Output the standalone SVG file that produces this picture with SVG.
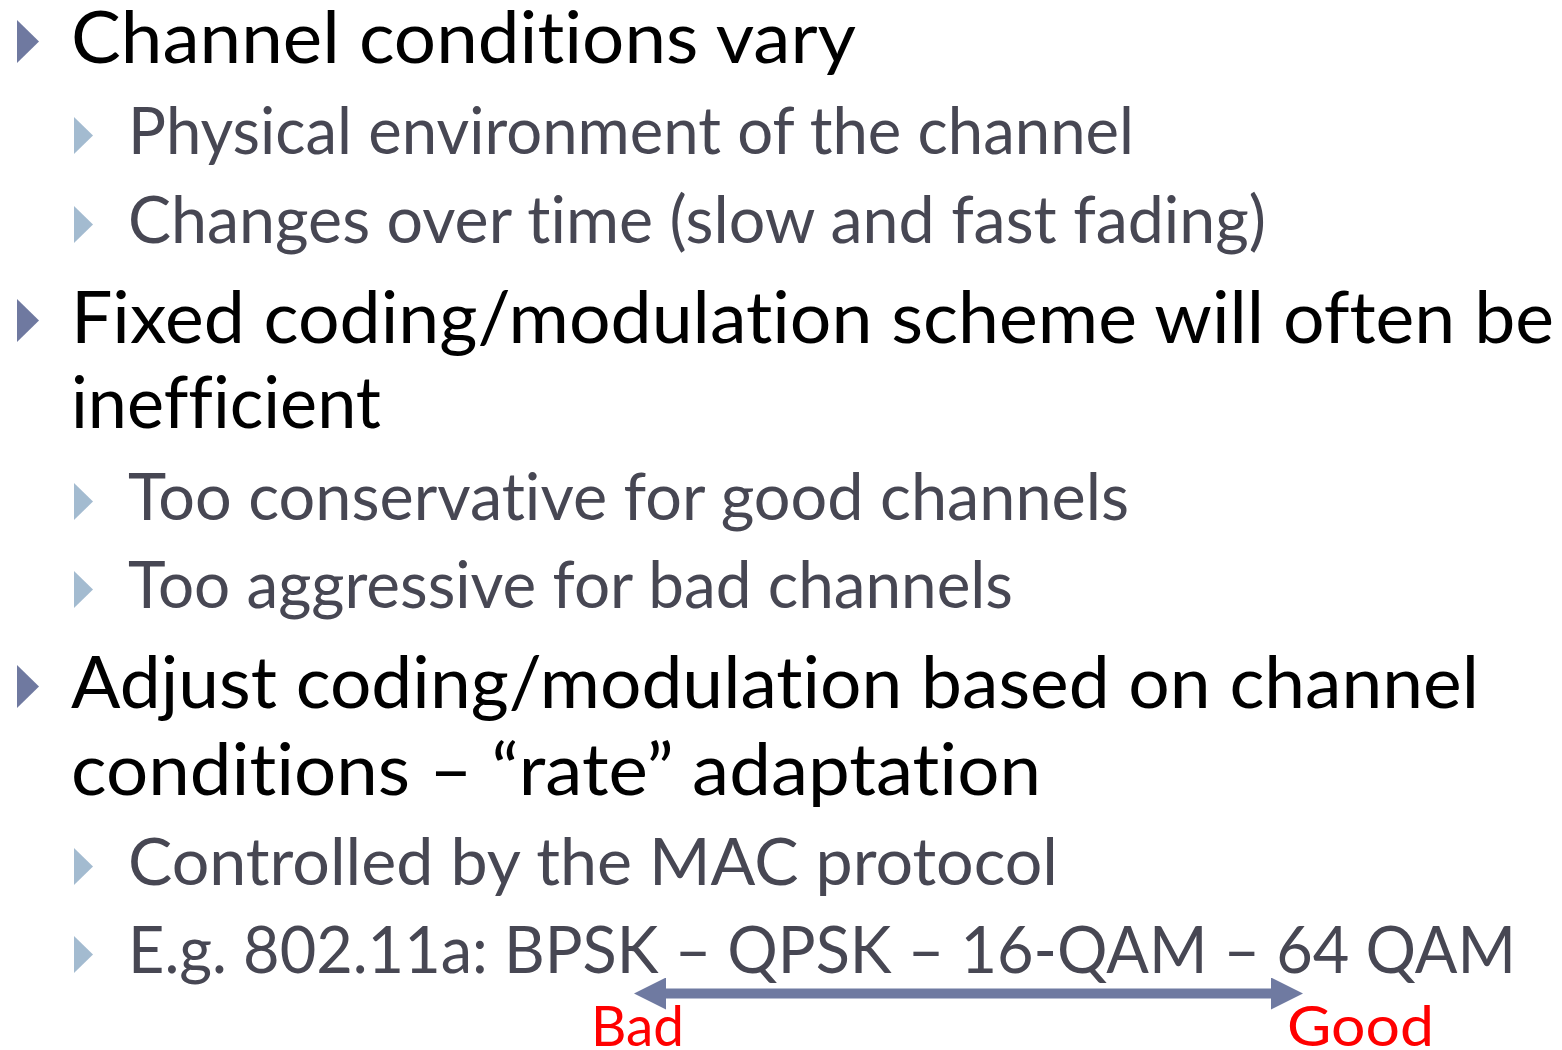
<svg xmlns="http://www.w3.org/2000/svg" width="1562" height="1050" viewBox="0 0 1562 1050">
<style>
text{font-variant-ligatures:none;font-feature-settings:"liga" 0,"dlig" 0}
.l1{font-family:Lato,"Open Sans","DejaVu Sans",sans-serif;font-size:72px;fill:#000}
.l2{font-family:Lato,"Open Sans","DejaVu Sans",sans-serif;font-size:65px;fill:#474753}
.lbl{font-family:Lato,"Open Sans","DejaVu Sans",sans-serif;font-size:56px;fill:#ff0000}
.b1{fill:#6f79a0}
.b2{fill:#a3bbd0}
</style>
<defs>
<marker id="head" viewBox="0 0 32 32" refX="1" refY="16" markerWidth="32" markerHeight="32" markerUnits="userSpaceOnUse" orient="auto-start-reverse">
<path d="M0,0 L32,16 L0,32 z" fill="#6f7aa1"/>
</marker>
</defs>
<rect width="1562" height="1050" fill="#ffffff"/>
<g id="item1">
<polygon class="b1" points="17,20 39,41.5 17,63"/>
<text class="l1" x="71" y="63" textLength="785" lengthAdjust="spacingAndGlyphs">Channel conditions vary</text>
</g>
<g id="item1a">
<polygon class="b2" points="74,117 93,135.5 74,154"/>
<text class="l2" x="128" y="154" textLength="1006" lengthAdjust="spacingAndGlyphs">Physical environment of the channel</text>
</g>
<g id="item1b">
<polygon class="b2" points="74,206 93,224.5 74,243"/>
<text class="l2" x="128" y="243" textLength="1138" lengthAdjust="spacingAndGlyphs">Changes over time (slow and fast fading)</text>
</g>
<g id="item2">
<polygon class="b1" points="17,299 39,320.5 17,342"/>
<text class="l1" x="71" y="343" textLength="1483" lengthAdjust="spacingAndGlyphs">Fixed coding/modulation scheme will often be</text>
<text class="l1" x="71" y="428" textLength="310" lengthAdjust="spacingAndGlyphs">inefficient</text>
</g>
<g id="item2a">
<polygon class="b2" points="74,483 93,501.5 74,520"/>
<text class="l2" x="128" y="520" textLength="1001" lengthAdjust="spacingAndGlyphs">Too conservative for good channels</text>
</g>
<g id="item2b">
<polygon class="b2" points="74,571 93,589.5 74,608"/>
<text class="l2" x="128" y="608" textLength="885" lengthAdjust="spacingAndGlyphs">Too aggressive for bad channels</text>
</g>
<g id="item3">
<polygon class="b1" points="17,665 39,686.5 17,708"/>
<text class="l1" x="71" y="708" textLength="1408" lengthAdjust="spacingAndGlyphs">Adjust coding/modulation based on channel</text>
<text class="l1" x="71" y="795" textLength="970" lengthAdjust="spacingAndGlyphs">conditions – “rate” adaptation</text>
</g>
<g id="item3a">
<polygon class="b2" points="74,848 93,866.5 74,885"/>
<text class="l2" x="128" y="885" textLength="930" lengthAdjust="spacingAndGlyphs">Controlled by the MAC protocol</text>
</g>
<g id="item3b">
<polygon class="b2" points="74,936 93,954.5 74,973"/>
<text class="l2" x="128" y="973" textLength="1388" lengthAdjust="spacingAndGlyphs">E.g. 802.11a: BPSK – QPSK – 16-QAM – 64 QAM</text>
</g>
<g id="connectors">
<line x1="665" y1="993.5" x2="1272" y2="993.5" stroke="#6f7aa1" stroke-width="10" marker-start="url(#head)" marker-end="url(#head)"/>
</g>
<g id="label-bad">
<text class="lbl" x="591" y="1046" textLength="93" lengthAdjust="spacingAndGlyphs">Bad</text>
</g>
<g id="label-good">
<text class="lbl" x="1287" y="1046" textLength="147" lengthAdjust="spacingAndGlyphs">Good</text>
</g>
</svg>
